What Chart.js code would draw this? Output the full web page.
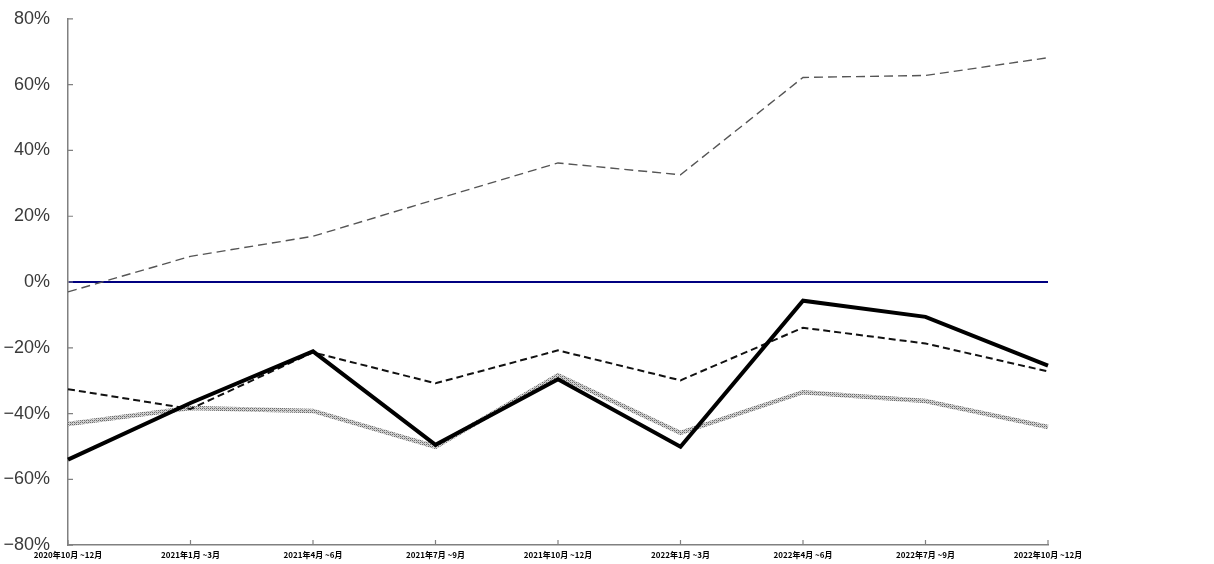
<!DOCTYPE html>
<html><head><meta charset="utf-8">
<script src="https://cdn.jsdelivr.net/npm/chart.js@4.4.0/dist/chart.umd.min.js"></script>
<style>html,body{margin:0;padding:0;background:#fff}#wrap{width:1214px;height:564px}</style>
</head><body><div id="wrap"><canvas id="c" width="1214" height="564"></canvas></div>
<script>
const categories = ["2020年10月 ~12月","2021年1月 ~3月","2021年4月 ~6月","2021年7月 ~9月","2021年10月 ~12月","2022年1月 ~3月","2022年4月 ~6月","2022年7月 ~9月","2022年10月 ~12月"];
const seriesSolid = [-54.0,-36.8,-21.1,-49.5,-29.6,-50.1,-5.7,-10.6,-25.4];
const seriesDashed = [-32.6,-38.6,-21.4,-30.8,-20.8,-29.9,-13.9,-18.7,-27.2];
const seriesPattern = [-43.2,-38.3,-39.2,-50.1,-28.4,-45.9,-33.5,-36.2,-44.1];
const seriesGreyDashed = [-3.0,7.8,13.9,25.1,36.2,32.6,62.2,62.8,68.2];
const yTicks = [-80,-60,-40,-20,0,20,40,60,80];

function makePattern(){
  const p = document.createElement('canvas'); p.width = 4; p.height = 4;
  const g = p.getContext('2d');
  g.fillStyle = '#d0d0d0'; g.fillRect(0,0,4,4);
  g.fillStyle = '#6a6a6a';
  g.fillRect(0,0,1,1); g.fillRect(2,2,1,1); g.fillRect(2,0,1,1); g.fillRect(0,2,1,1);
  g.fillStyle = '#9a9a9a';
  g.fillRect(1,1,1,1); g.fillRect(3,3,1,1);
  return document.getElementById('c').getContext('2d').createPattern(p,'repeat');
}

const innerTicks = {
  id:'innerTicks',
  afterDatasetsDraw(chart){
    const ctx = chart.ctx, x = chart.scales.x, y = chart.scales.y, a = chart.chartArea;
    ctx.save(); ctx.strokeStyle = '#808080'; ctx.lineWidth = 1.2;
    ctx.beginPath();
    for (let i=0;i<categories.length;i++){ const px = x.getPixelForValue(i); ctx.moveTo(px,a.bottom); ctx.lineTo(px,a.bottom-5); }
    for (const v of yTicks){ const py = y.getPixelForValue(v); ctx.moveTo(a.left,py); ctx.lineTo(a.left+5,py); }
    ctx.stroke(); ctx.restore();
  }
};

new Chart(document.getElementById('c'), {
  type:'line',
  data:{
    labels: categories,
    datasets:[
      {data: seriesSolid, borderColor:'#000', borderWidth:4, pointRadius:0, tension:0, fill:false},
      {data: seriesDashed, borderColor:'#111', borderWidth:2, borderDash:[7,4], pointRadius:0, tension:0, fill:false},
      {data: seriesPattern, borderColor: makePattern(), borderWidth:4.5, pointRadius:0, tension:0, fill:false},
      {data: seriesGreyDashed, borderColor:'#555', borderWidth:1.4, borderDash:[9,5], pointRadius:0, tension:0, fill:false}
    ]
  },
  options:{
    responsive:false, animation:false,
    layout:{padding:{top:14,right:166,bottom:0,left:0}},
    plugins:{legend:{display:false}, tooltip:{enabled:false}},
    scales:{
      x:{
        offset:false,
        grid:{display:false, drawTicks:false},
        border:{display:true, color:'#808080', width:1.5},
        ticks:{autoSkip:false, maxRotation:0, minRotation:0, padding:6, color:'#000',
          font:{family:'"Noto Sans CJK JP"', size:8, weight:'bold', lineHeight:1}},
        afterFit(s){ s.height = 17; }
      },
      y:{
        min:-80, max:80,
        afterBuildTicks(s){ s.ticks = yTicks.map(v=>({value:v})); },
        grid:{drawTicks:false, lineWidth:2, color:(c)=> (c.tick && c.tick.value===0) ? '#000080' : 'rgba(0,0,0,0)'},
        border:{display:true, color:'#808080', width:1.5},
        ticks:{padding:18, color:'#3a3a3a',
          font:{family:'"Liberation Sans", Arial', size:18, lineHeight:0.1},
          callback:(v)=> (v<0 ? '\u2212'+Math.abs(v) : v) + '%'},
        afterFit(s){ s.width = 68; }
      }
    }
  },
  plugins:[innerTicks]
});
</script>
</body></html>
